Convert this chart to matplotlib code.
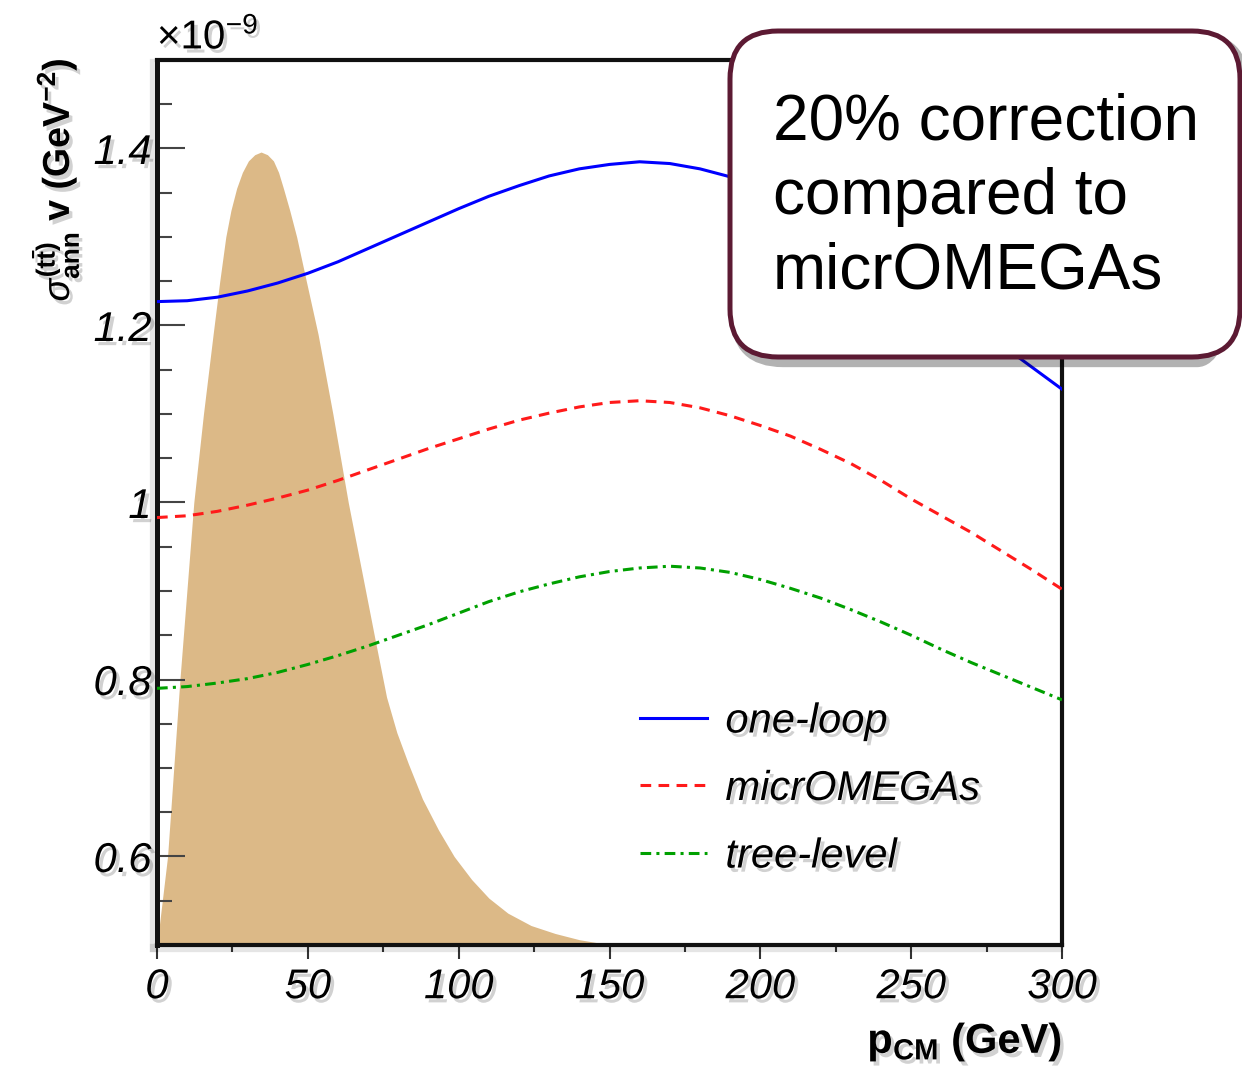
import matplotlib
matplotlib.use("Agg")
import matplotlib.pyplot as plt
import matplotlib.patheffects as pe
from matplotlib.patches import FancyBboxPatch
from matplotlib.ticker import MultipleLocator, FuncFormatter
from matplotlib.lines import Line2D

# Datos (sigma*v en unidades de 1e-9 GeV^-2, p_CM en GeV)
p_grid = [0, 10, 20, 30, 40, 50, 60, 70, 80, 90, 100, 110, 120, 130, 140, 150,
          160, 170, 180, 190, 200, 210, 220, 230, 240, 250, 260, 270, 280, 290, 300]

sv_oneloop = [1.227, 1.228, 1.232, 1.239, 1.248, 1.259, 1.272, 1.287, 1.302, 1.317,
              1.332, 1.346, 1.358, 1.369, 1.377, 1.382, 1.385, 1.383, 1.377, 1.368,
              1.355, 1.340, 1.322, 1.301, 1.278, 1.252, 1.226, 1.202, 1.178, 1.153, 1.128]

sv_micro = [0.983, 0.985, 0.990, 0.997, 1.005, 1.014, 1.025, 1.037, 1.049, 1.061,
            1.072, 1.083, 1.093, 1.101, 1.108, 1.113, 1.115, 1.113, 1.107, 1.098,
            1.087, 1.075, 1.060, 1.044, 1.025, 1.004, 0.985, 0.966, 0.945, 0.924, 0.902]

sv_tree = [0.790, 0.792, 0.796, 0.801, 0.808, 0.817, 0.827, 0.838, 0.850, 0.862,
           0.875, 0.888, 0.899, 0.908, 0.916, 0.922, 0.926, 0.928, 0.926, 0.921,
           0.913, 0.903, 0.892, 0.879, 0.865, 0.850, 0.834, 0.819, 0.805, 0.791, 0.777]

# distribucion de p_CM (escala arbitraria, dibujada sobre la base 0.5)
p_dist = [0, 3.5, 7.6, 12.2, 15.4, 18.6, 20.8, 22.8, 24.5, 26.4, 28.3, 30.3, 32.4,
          34.5, 36.6, 38.6, 40.3, 41.9, 44, 46.3, 49.5, 53.4, 58.3, 63.4, 68, 72.3,
          76.1, 79.5, 83.3, 88, 93.3, 98.5, 104.3, 110, 116.3, 124, 132, 140, 147,
          155, 300]
h_dist = [0.5, 0.60, 0.80, 1.00, 1.10, 1.19, 1.25, 1.30, 1.33, 1.355, 1.373, 1.386,
          1.393, 1.396, 1.393, 1.386, 1.373, 1.355, 1.33, 1.30, 1.25, 1.19, 1.10, 1.00,
          0.92, 0.845, 0.78, 0.74, 0.705, 0.665, 0.63, 0.60, 0.574, 0.553, 0.536, 0.522,
          0.513, 0.506, 0.502, 0.5, 0.5]

labels = ["one-loop", "micrOMEGAs", "tree-level"]

plt.rcParams['font.family'] = ['Liberation Sans', 'DejaVu Sans']
plt.rcParams['mathtext.fontset'] = 'custom'
plt.rcParams['mathtext.rm'] = 'Liberation Sans'
plt.rcParams['mathtext.it'] = 'Liberation Sans:italic'
plt.rcParams['mathtext.bf'] = 'Liberation Sans:bold'

# sombra suave para los textos
shadow = [pe.SimplePatchShadow(offset=(2.5, -3), shadow_rgbFace='black', alpha=0.18),
          pe.Normal()]

fig = plt.figure(figsize=(12.42, 10.74), dpi=100)
ax = fig.add_axes([157 / 1242, 1 - 945 / 1074, (1062 - 157) / 1242, (945 - 60) / 1074])

ax.fill_between(p_dist, 0.5, h_dist, color='#dcb987', lw=0, zorder=1)
ax.plot(p_grid, sv_oneloop, color='#0000ff', lw=2.2, zorder=3)
ax.plot(p_grid, sv_micro, color='#ff1a1a', lw=2.2, dashes=(3.5, 2.4), zorder=3)
ax.plot(p_grid, sv_tree, color='#00a000', lw=2.2, dashes=(3.5, 1.7, 1.0, 1.7), zorder=3)

ax.set_xlim(0, 300)
ax.set_ylim(0.5, 1.5)

for s in ax.spines.values():
    s.set_linewidth(3)
    s.set_color('#111111')
ax.spines['left'].set_linewidth(3.6)
for side in ['left', 'bottom']:
    ax.spines[side].set_path_effects([pe.Stroke(offset=(-2, -2), linewidth=6,
                                                foreground=(0, 0, 0, 0.10)), pe.Normal()])

ax.xaxis.set_major_locator(MultipleLocator(50))
ax.xaxis.set_minor_locator(MultipleLocator(25))
ax.yaxis.set_major_locator(MultipleLocator(0.2))
ax.yaxis.set_minor_locator(MultipleLocator(0.05))
ax.yaxis.set_major_formatter(FuncFormatter(lambda v, pos: '%g' % round(v, 3)))

ax.tick_params(axis='x', which='major', direction='out', length=10, width=1.5,
               color='#333333', pad=6, labelsize=30)
ax.tick_params(axis='x', which='minor', direction='out', length=5, width=1.5, color='#333333')
ax.tick_params(axis='y', which='major', direction='in', length=20, width=1.5,
               color='#444444', pad=4, labelsize=30)
ax.tick_params(axis='y', which='minor', direction='in', length=11, width=1.5, color='#444444')

for lab in ax.get_xticklabels() + ax.get_yticklabels():
    lab.set_fontstyle('italic')
    lab.set_path_effects(shadow)

ax.text(0.0, 1.004, r'$\times\mathit{10^{-9}}$', transform=ax.transAxes, fontsize=29,
        ha='left', va='bottom', path_effects=shadow)

fig.text(1062 / 1242, 1 - 1042 / 1074, r'$\mathbf{p_{CM}}$ (GeV)', fontsize=30,
         fontweight='bold', ha='right', va='center', path_effects=shadow)
fig.text(55 / 1242, 1 - 58 / 1074,
         r'$\sigma^{\mathbf{(t\bar{t})}}_{\mathbf{ann}}$ v (GeV$^{\mathbf{-2}}$)',
         fontsize=27, fontweight='bold', rotation=90, ha='center', va='top', path_effects=shadow)

handles = [Line2D([], [], color='#0000ff', lw=2.2),
           Line2D([], [], color='#ff1a1a', lw=2.2, dashes=(3.5, 2.4)),
           Line2D([], [], color='#00a000', lw=2.2, dashes=(3.5, 1.7, 1.0, 1.7))]
leg = fig.legend(handles, labels, loc='center left', bbox_to_anchor=(640 / 1242, 1 - 789 / 1074),
                 frameon=False, prop={'size': 30, 'style': 'italic'}, handlelength=1.6,
                 handletextpad=0.45, labelspacing=0.66, borderpad=0, borderaxespad=0)
for t in leg.get_texts():
    t.set_path_effects(shadow)

# recuadro con el comentario
over = fig.add_axes([0, 0, 1, 1])
over.set_xlim(0, 1242)
over.set_ylim(1074, 0)
over.axis('off')
over.add_patch(FancyBboxPatch((735, 37), 510, 326, boxstyle='round,pad=0,rounding_size=48',
                              fc='none', ec=(0, 0, 0, 0.3), lw=6))
over.add_patch(FancyBboxPatch((730, 31), 510, 326, boxstyle='round,pad=0,rounding_size=48',
                              fc='white', ec='#5c1a33', lw=3.6))
over.text(773, 93, '20% correction\ncompared to\nmicrOMEGAs', fontsize=46,
          ha='left', va='top', linespacing=1.3)

fig.savefig('out.png', dpi=100)
